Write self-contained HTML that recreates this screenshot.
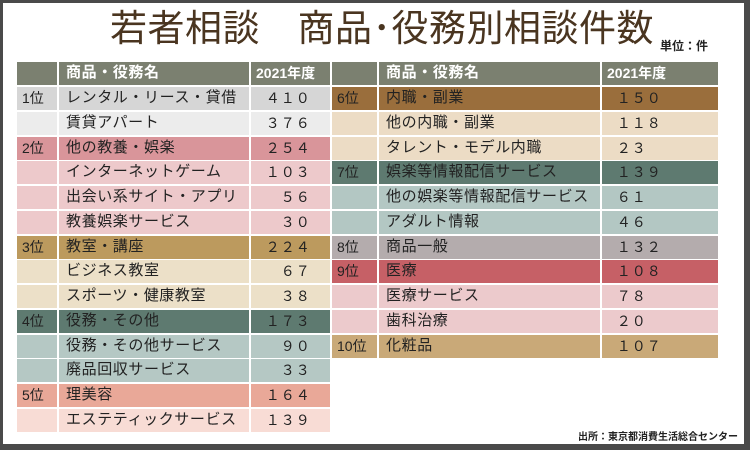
<!DOCTYPE html>
<html><head><meta charset="utf-8"><style>
body{margin:0;width:750px;height:450px;overflow:hidden;background:#4a4a4a;font-family:"Liberation Sans","Noto Sans CJK JP",sans-serif}
#frame{position:absolute;left:3px;top:3px;width:741px;height:441px;background:#fff}
.c{position:absolute;box-sizing:border-box;font-size:14px;color:#222;line-height:22px;padding-left:5px;white-space:pre;overflow:hidden}
.h{color:#fff;font-weight:bold}
.n{font-size:15px;letter-spacing:0.6px;padding-left:7px}
.v{letter-spacing:1px}
</style></head><body>
<div id="frame"></div>
<div style="position:absolute;left:110px;top:6px;font-size:37px;letter-spacing:0.5px;color:#4a3520;line-height:46px;white-space:nowrap">若者相談　商品･役務別相談件数</div>
<div style="position:absolute;left:660px;top:37px;font-size:12px;font-weight:bold;color:#222">単位：件</div>
<div style="position:absolute;left:578px;top:428px;font-size:10px;font-weight:bold;color:#222">出所：東京都消費生活総合センター</div>
<div id="tbl"></div>
<script>
const leftRows=[
["1位","レンタル・リース・貸借","４１０","#d6d6d6","#ececec",1],
["","賃貸アパート","３７６","#d6d6d6","#ececec",0],
["2位","他の教養・娯楽","２５４","#d9959a","#edc9cb",1],
["","インターネットゲーム","１０３","#d9959a","#edc9cb",0],
["","出会い系サイト・アプリ","　５６","#d9959a","#edc9cb",0],
["","教養娯楽サービス","　３０","#d9959a","#edc9cb",0],
["3位","教室・講座","２２４","#bc9a5e","#ece0c8",1],
["","ビジネス教室","　６７","#bc9a5e","#ece0c8",0],
["","スポーツ・健康教室","　３８","#bc9a5e","#ece0c8",0],
["4位","役務・その他","１７３","#5e7a70","#b5c8c4",1],
["","役務・その他サービス","　９０","#5e7a70","#b5c8c4",0],
["","廃品回収サービス","　３３","#5e7a70","#b5c8c4",0],
["5位","理美容","１６４","#e9a898","#f8dcd5",1],
["","エステティックサービス","１３９","#e9a898","#f8dcd5",0]];
const rightRows=[
["6位","内職・副業","１５０","#9a6e3c","#ecdcc5",1],
["","他の内職・副業","１１８","#9a6e3c","#ecdcc5",0],
["","タレント・モデル内職","２３","#9a6e3c","#ecdcc5",0],
["7位","娯楽等情報配信サービス","１３９","#5e7a70","#b3c7c3",1],
["","他の娯楽等情報配信サービス","６１","#5e7a70","#b3c7c3",0],
["","アダルト情報","４６","#5e7a70","#b3c7c3",0],
["8位","商品一般","１３２","#b4acad","#b4acad",1],
["9位","医療","１０８","#c66066","#eccacc",1],
["","医療サービス","７８","#c66066","#eccacc",0],
["","歯科治療","２０","#c66066","#eccacc",0],
["10位","化粧品","１０７","#c9a978","#c9a978",1]];
const tbl=document.getElementById('tbl');
function cell(x,y,w,h,bg,txt,cls,name){
 const d=document.createElement('div');
 d.className='c'+(cls?' '+cls:'');
 d.style.left=x+'px';d.style.top=y+'px';d.style.width=w+'px';d.style.height=h+'px';d.style.background=bg;
 d.textContent=txt;
 
 
 tbl.appendChild(d);
}
function table(cols,rows,side){
 const hb='#7b8070';
 cell(cols[0][0],62,cols[0][1]-2,23,hb,'','h',side+'-header-rank');
 cell(cols[1][0],62,cols[1][1]-2,23,hb,'商品・役務名','h n',side+'-header-name');
 cell(cols[2][0],62,cols[2][1],23,hb,'2021年度','h',side+'-header-year');
 rows.forEach((r,i)=>{
  const y=87+i*24.75, bg=r[5]?r[3]:r[4];
  cell(cols[0][0],y,cols[0][1]-2,23,bg,r[0],'',side+'-rank-cell');
  cell(cols[1][0],y,cols[1][1]-2,23,bg,r[1],'n',side+'-name-cell');
  cell(cols[2][0],y,cols[2][1],23,bg,'  '+r[2],'v',side+'-value-cell');
 });
}
table([[17,42],[59,192],[251,79]],leftRows,'left');
table([[332,47],[379,223],[602,116]],rightRows,'right');
</script>
</body></html>
